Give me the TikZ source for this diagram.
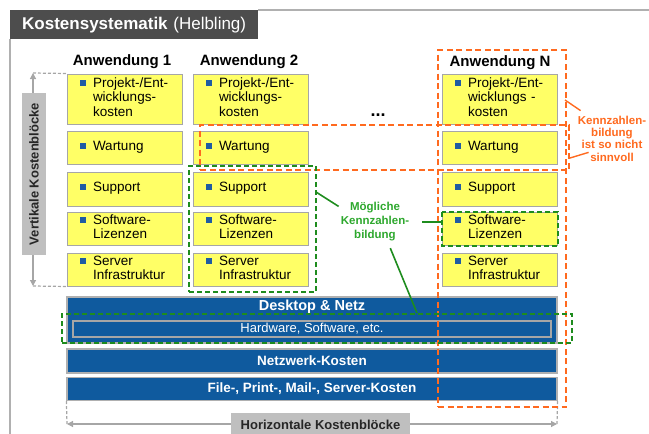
\documentclass[tikz,border=0pt]{standalone}
\usepackage{fontspec}
\setmainfont{Liberation Sans}
\usetikzlibrary{arrows.meta}

\definecolor{boxyellow}{HTML}{FFFF66}
\definecolor{boxgray}{HTML}{A6A6A6}
\definecolor{bulletblue}{HTML}{1F5CA3}
\definecolor{barblue}{HTML}{0F5A9E}
\definecolor{titlegray}{HTML}{4D4D4D}
\definecolor{framegray}{HTML}{B0B0B0}
\definecolor{labelgray}{HTML}{BFBFBF}
\definecolor{kzorange}{HTML}{FF6A1F}
\definecolor{kzgreen}{HTML}{1E8C1E}
\definecolor{kztext}{HTML}{2EA82E}

\newcommand{\kitem}[1]{\raisebox{1.5pt}{\textcolor{bulletblue}{\rule{6pt}{6pt}}}\hspace{7.5pt}\begin{tabular}[t]{@{}l@{}}#1\end{tabular}}

\tikzset{
  kbox/.style={draw=boxgray, fill=boxyellow, line width=1pt, minimum width=115pt,
    text width=90pt, inner xsep=12.5pt, inner ysep=0pt, align=left,
    font=\fontsize{13.5}{14.5}\selectfont},
  colhead/.style={font=\fontsize{15}{16}\selectfont\bfseries},
  bar/.style={draw=framegray, fill=barblue, line width=1.2pt, minimum width=490pt,
    inner sep=0pt, text=white, font=\fontsize{13.5}{15}\selectfont\bfseries},
  odash/.style={draw=kzorange, line width=2.3pt, dash pattern=on 6pt off 3.5pt,
    inner sep=0pt},
  gdash/.style={draw=kzgreen, line width=2pt, dash pattern=on 5pt off 3pt,
    inner sep=0pt},
  oline/.style={draw=kzorange, line width=1.4pt},
  gline/.style={draw=kzgreen, line width=1.6pt},
  graylabel/.style={fill=labelgray, inner sep=0pt, text=black!85,
    font=\fontsize{13}{14}\selectfont\bfseries},
  dimarrow/.style={draw=boxgray, line width=1.2pt, {Triangle[length=6pt,width=6pt]}-{Triangle[length=6pt,width=6pt]}},
  dimdash/.style={draw=boxgray, line width=1.2pt, dash pattern=on 3pt off 2pt},
}

\begin{document}
\begin{tikzpicture}[x=1pt, y=-1pt]
  \useasboundingbox (0,0) rectangle (649,434);

  % Title and frame
  \node[fill=titlegray, anchor=north west, minimum height=29pt, text width=224pt,
    inner xsep=12pt, align=left, text=white, font=\fontsize{17}{18}\selectfont]
    (title) at (10,10) {\textbf{Kostensystematik} (Helbling)};
  \coordinate (frameTR) at (649,10);
  \coordinate (frameBL) at (10,434);
  \draw[framegray, line width=1.3pt] (title.north east) -- (frameTR);
  \draw[framegray, line width=1.3pt] (title.south west) -- (frameBL);

  % Column heads
  \node[colhead] (h1) at (122,62) {Anwendung 1};
  \node[colhead] (h2) at (249,62) {Anwendung 2};
  \node[colhead] (hN) at (500,63) {Anwendung N};
  \node[font=\fontsize{18}{18}\selectfont\bfseries] (dots) at (378,115) {...};

  % Anwendung 1
  \node[kbox, minimum height=50pt] (a1proj) at (124.5,99) {\kitem{Projekt-/Ent-\\wicklungs-\\kosten}};
  \node[kbox, minimum height=33pt] (a1wart) at (124.5,147.5) {\kitem{Wartung}};
  \node[kbox, minimum height=34pt] (a1supp) at (124.5,189) {\kitem{Support}};
  \node[kbox, minimum height=33pt] (a1liz) at (124.5,228.5) {\kitem{Software-\\Lizenzen}};
  \node[kbox, minimum height=33pt] (a1serv) at (124.5,269.5) {\kitem{Server\\Infrastruktur}};

  % Anwendung 2
  \node[kbox, minimum height=50pt] (a2proj) at (250.5,99) {\kitem{Projekt-/Ent-\\wicklungs-\\kosten}};
  \node[kbox, minimum height=33pt] (a2wart) at (250.5,147.5) {\kitem{Wartung}};
  \node[kbox, minimum height=34pt] (a2supp) at (250.5,189) {\kitem{Support}};
  \node[kbox, minimum height=33pt] (a2liz) at (250.5,228.5) {\kitem{Software-\\Lizenzen}};
  \node[kbox, minimum height=33pt] (a2serv) at (250.5,269.5) {\kitem{Server\\Infrastruktur}};

  % Anwendung N
  \node[kbox, minimum height=50pt] (aNproj) at (499.5,99) {\kitem{Projekt-/Ent-\\wicklungs -\\kosten}};
  \node[kbox, minimum height=33pt] (aNwart) at (499.5,147.5) {\kitem{Wartung}};
  \node[kbox, minimum height=34pt] (aNsupp) at (499.5,189) {\kitem{Support}};
  \node[kbox, minimum height=33pt] (aNliz) at (499.5,228.5) {\kitem{Software-\\Lizenzen}};
  \node[kbox, minimum height=33pt] (aNserv) at (499.5,269.5) {\kitem{Server\\Infrastruktur}};

  % Horizontal blocks
  \node[bar, minimum height=46pt] (desk) at (312,320) {};
  \node[text=white, font=\fontsize{14.5}{15}\selectfont\bfseries] (desklbl) at (312,307) {Desktop \& Netz};
  \node[draw=boxgray, line width=1.2pt, minimum width=478pt, minimum height=16pt, inner sep=0pt,
    text=white, font=\fontsize{13}{14}\selectfont] (hw) at (312,329) {Hardware, Software, etc.};
  \node[bar, minimum height=24pt] (netz) at (312,361) {Netzwerk-Kosten};
  \node[bar, minimum height=23pt] (file) at (312,389) {File-, Print-, Mail-, Server-Kosten};

  % Vertical dimension
  \coordinate (vtop) at (33,73);
  \coordinate (vbot) at (33,286);
  \draw[dimdash] (vtop) -- (a1proj.north west);
  \draw[dimdash] (vbot) -- (a1serv.south west);
  \draw[dimarrow] (vtop) -- (vbot);
  \node[graylabel, rotate=90, minimum width=162pt, minimum height=24pt] (vlab) at (34,174) {Vertikale Kostenblöcke};

  % Horizontal dimension
  \coordinate (hl) at (67,424);
  \coordinate (hr) at (557,424);
  \draw[dimdash] (file.south west) -- (hl);
  \draw[dimdash] (file.south east) -- (hr);
  \draw[dimarrow] (hl) -- (hr);
  \node[graylabel, minimum width=179pt, minimum height=24pt] (hlab) at (320.5,425) {Horizontale Kostenblöcke};

  % Groupings
  \node[odash, minimum width=128pt, minimum height=357pt] (grpN) at (502,228.5) {};
  \node[odash, minimum width=369pt, minimum height=45pt] (grpW) at (384.5,147.5) {};
  \node[gdash, minimum width=127pt, minimum height=126pt] (grp2) at (252.5,229) {};
  \node[gdash, minimum width=510pt, minimum height=29pt] (grpHW) at (317,328.5) {};
  \draw[gdash] (aNliz.north west) rectangle (aNliz.south east);

  % Labels
  \node[align=center, text=kzorange, inner sep=1pt,
    font=\fontsize{11.5}{12.3}\selectfont\bfseries] (kzo) at (612,138.5)
    {Kennzahlen-\\bildung\\ist so nicht\\sinnvoll};
  \node[align=center, text=kztext, inner sep=1pt,
    font=\fontsize{11.5}{14}\selectfont\bfseries] (mkz) at (375,222)
    {Mögliche\\Kennzahlen-\\bildung};

  % Connectors
  \coordinate (oN) at (565,100);
  \coordinate (oW) at (570,158);
  \draw[oline] (oN) -- ([shift={(4,-4)}]kzo.north west);
  \draw[oline] (oW) -- ([shift={(12,-10)}]kzo.south west);
  \coordinate (g2pt) at (316,192);
  \draw[gline] (g2pt) -- ([shift={(-1,5)}]mkz.north west);
  \draw[gline, shorten <=12pt] (mkz.east) -- (mkz.east -| aNliz.west);
  \draw[gline, shorten <=6pt] ([xshift=13pt]mkz.south) -- ([xshift=100pt]grpHW.north);
\end{tikzpicture}
\end{document}
